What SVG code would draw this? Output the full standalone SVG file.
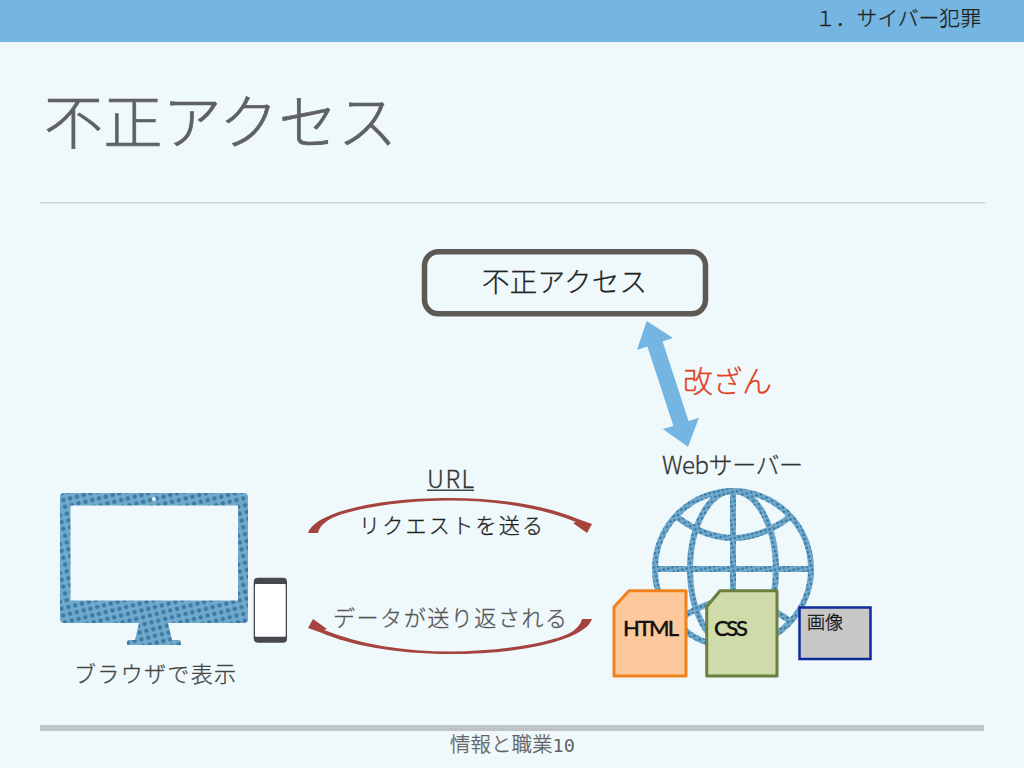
<svg xmlns="http://www.w3.org/2000/svg" width="1024" height="768" viewBox="0 0 1024 768">
<style>
text{font-family:"Noto Sans CJK JP","Noto Sans",sans-serif;font-weight:300;fill:#333}
.arc{fill:#a5443f}
.globe{fill:none;stroke:url(#dots2);stroke-width:6}
.doc{stroke-width:3;stroke-linejoin:round}
.office{font-family:Lato,"Open Sans",sans-serif;font-weight:500;fill:#111;stroke:#111;stroke-width:.35;font-size:22px}
.firm{stroke-width:.3}
</style>
<defs>
<pattern id="dots" width="7" height="7" patternUnits="userSpaceOnUse" patternTransform="rotate(-14)">
<rect width="7" height="7" fill="#70aacd"/>
<circle cx="3.500" cy="3.500" r="2.200" fill="#3c78a3"/>
</pattern>
<pattern id="dots2" width="4.500" height="4.500" patternUnits="userSpaceOnUse" patternTransform="rotate(-14)">
<rect width="4.500" height="4.500" fill="#70aacd"/>
<circle cx="2.250" cy="2.250" r="1.400" fill="#3c78a3"/>
</pattern>
<path id="arc-shape" class="arc" d="M308,533C314,514 370,498 450,498C505,498 550,507 578,519L592,524L587,533L573,523L576,522C540,507.500 495,500.500 450,500.500C400,500.500 352,509 332,518Q320,524 318,533Z"/>
</defs>
<rect width="1024" height="768" fill="#eff9fb"/>
<rect id="header" width="1024" height="42" fill="#74b5e1"/>
<text id="section" class="firm" x="815" y="26" font-size="20.800" style="fill:#222;stroke:#222">１．サイバー犯罪</text>
<text id="title" x="44" y="144" font-size="59" textLength="353" style="fill:#5f6163;stroke:#5f6163;stroke-width:.7">不正アクセス</text>
<rect id="rule" x="40" y="202" width="945" height="1.500" fill="#c9d4d7"/>
<rect id="footer-bar" x="40" y="725" width="944" height="6" fill="#bfc3c5"/>
<text id="footer" class="firm" x="450" y="752" font-size="20.500" style="fill:#5f6163;stroke:#5f6163">情報と職業<tspan style="font-family:'DejaVu Sans Mono','Liberation Mono',monospace;font-weight:400;stroke:none" font-size="18.500">10</tspan></text>

<g id="connectors">
<use id="arrow-request" href="#arc-shape"/>
<use id="arrow-response" href="#arc-shape" transform="rotate(180 450 576)"/>
<polygon id="arrow-tamper" fill="#74b5e1" points="646.700,321 673,338 662.600,341.500 688.600,421 699,417.700 688,446.700 662.700,429 673.400,426 647.400,346.500 637,350"/>
</g>

<g id="node-attack">
<rect x="424.500" y="251.800" width="281" height="62" rx="14" fill="none" stroke="#5d5a55" stroke-width="5.500"/>
<text class="firm" x="482" y="292" font-size="27.500" textLength="165" style="fill:#222;stroke:#222">不正アクセス</text>
</g>
<g id="label-tamper"><text class="firm" x="683" y="392" font-size="30" textLength="89" style="fill:#e2401f;stroke:#e2401f">改ざん</text></g>
<g id="label-server"><text class="firm" x="662" y="474" font-size="24" textLength="141" style="fill:#333;stroke:#333">Webサーバー</text></g>
<g id="label-url">
<text class="firm" x="427" y="488" font-size="24" textLength="47" style="fill:#333;stroke:#333">URL</text>
<rect x="427" y="489.500" width="47" height="1.500" fill="#444"/>
</g>
<g id="label-request"><text class="firm" x="359" y="533" font-size="21" textLength="184" style="fill:#222;stroke:#222">リクエストを送る</text></g>
<g id="label-response"><text class="firm" x="333" y="626" font-size="22" textLength="234" style="fill:#555;stroke:#555">データが送り返される</text></g>

<g id="node-monitor">
<path fill="url(#dots)" fill-rule="evenodd" d="M64,493H244a4,4 0 0 1 4,4V619a4,4 0 0 1 -4,4H168L172,640H179a2,2 0 0 1 2,2V645H127V642a2,2 0 0 1 2,-2H135L139,623H64a4,4 0 0 1 -4,-4V497a4,4 0 0 1 4,-4ZM70.500,505.500V600.500H238V505.500Z"/>
<circle cx="154" cy="499" r="2" fill="#eff9fb"/>
</g>
<g id="node-phone">
<rect x="253.700" y="577.700" width="33.300" height="65" rx="4" fill="#47494e"/>
<rect x="255" y="584" width="30.700" height="52.700" rx="1" fill="#fff"/>
</g>
<g id="label-browser"><text class="firm" x="74" y="682" font-size="22" textLength="162" style="fill:#444;stroke:#444">ブラウザで表示</text></g>

<g id="node-globe">
<circle class="globe" cx="733" cy="569" r="78"/>
<ellipse class="globe" cx="733" cy="569" rx="43" ry="78"/>
<path class="globe" d="M733,491V647M655,569H811M677,517Q733,559 790,517M677,621Q733,579 790,621"/>
</g>
<g id="node-html">
<polygon class="doc" fill="#fdc99c" stroke="#f0821e" points="614,607 629,590.700 686,590.700 686,676 614,676"/>
<text class="office" x="623" y="636" textLength="56">HTML</text>
</g>
<g id="node-css">
<polygon class="doc" fill="#cfdcaa" stroke="#6b7f3e" points="706.700,606.700 720,590.700 777,590.700 777,676 706.700,676"/>
<text class="office" x="714" y="636" textLength="34">CSS</text>
</g>
<g id="node-image">
<rect x="799.500" y="607.500" width="71" height="51.500" fill="#c8c8c8" stroke="#0f2a9a" stroke-width="2.500"/>
<text class="firm" x="807" y="629" font-size="18" textLength="36" style="fill:#111;stroke:#111">画像</text>
</g>
</svg>
